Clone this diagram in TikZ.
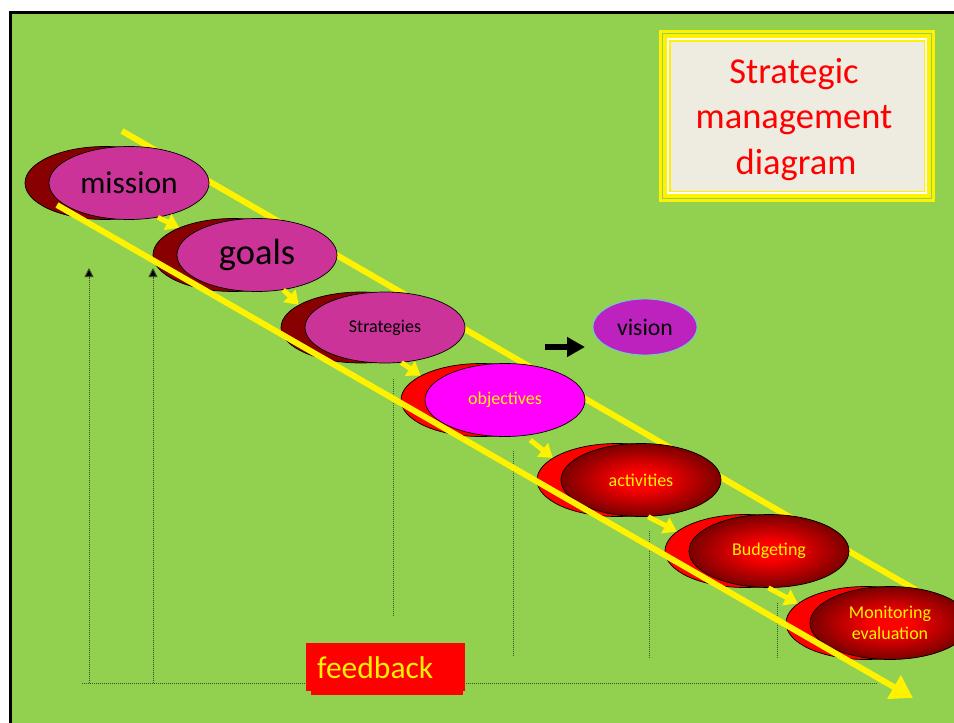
\documentclass[tikz,border=0pt]{standalone}
\usepackage{fontspec}
\setmainfont{Carlito}
\usetikzlibrary{shapes.geometric,arrows.meta}
\definecolor{bggreen}{HTML}{92D050}
\definecolor{pinkm}{HTML}{CC3399}
\definecolor{darkredb}{HTML}{880000}
\definecolor{brightmag}{HTML}{FF00FF}
\definecolor{visionc}{HTML}{BE22BE}
\definecolor{visionb}{HTML}{66CCEE}
\definecolor{beigebox}{HTML}{EEEBE0}
\definecolor{dotc}{HTML}{3C5028}
\definecolor{deepred}{HTML}{7A0000}
\pgfdeclareradialshading{redglow}{\pgfpoint{0bp}{0bp}}{color(0bp)=(red); color(6bp)=(red); color(25bp)=(deepred); color(50bp)=(deepred)}
\begin{document}
\begin{tikzpicture}[x=1pt,y=-1pt,
  ell/.style={ellipse, draw=black, line width=0.7pt, minimum width=160pt, minimum height=73pt, inner sep=0pt},
  backdark/.style={ell, fill=darkredb},
  backred/.style={ell, fill=red},
  frontpink/.style={ell, fill=pinkm, text=black},
  frontmag/.style={ell, fill=brightmag, text=yellow, font=\fontsize{18}{21.6}\selectfont},
  frontgrad/.style={ell, shading=redglow, text=yellow, font=\fontsize{18}{21.6}\selectfont, align=center},
  yline/.style={draw=yellow, line width=6pt},
  smallarrow/.style={draw=yellow, line width=5pt, -{Triangle[length=13pt,width=17pt]}},
  fbline/.style={draw=dotc, line width=0.9pt, dash pattern=on 1pt off 1pt},
  uptip/.style={-{Triangle[length=9pt,width=9pt,fill=black]}},
  titletext/.style={text=red, font=\fontsize{36.5}{45.5}\selectfont, anchor=base, inner sep=0pt}
]
\useasboundingbox (0,0) rectangle (954,723);
% background
\fill[white] (0,0) rectangle (954,723);
\fill[bggreen] (10,12) rectangle (960,730);
\draw[black, line width=2.6pt] (10.3,730) -- (10.3,12.3) -- (960,12.3);

% title box
\fill[yellow] (659,30) rectangle (935,202);
\draw[bggreen, line width=1pt] (662.5,33.5) rectangle (931.5,198.5);
\draw[white, line width=2pt] (668,39) rectangle (926,193);
\fill[beigebox] (670.5,41.5) rectangle (923.5,190.5);
\node[titletext] (t1) at (794,83) {Strategic};
\node[titletext] (t2) at (794,128.5) {management};
\node[titletext] (t3) at (796,174) {diagram};

% feedback dotted lines
\coordinate (h1) at (82,683);
\coordinate (h2) at (878,683);
\draw[fbline] (h1) -- (h2);
\coordinate (va1) at (89,683);
\coordinate (va2) at (89,268);
\coordinate (vb1) at (153,683);
\coordinate (vb2) at (153,268);
\draw[fbline, uptip] (va1) -- (va2);
\draw[fbline, uptip] (vb1) -- (vb2);
\coordinate (vc1) at (393,379);
\coordinate (vc2) at (393,617);
\coordinate (vd1) at (513,451);
\coordinate (vd2) at (513,657);
\coordinate (ve1) at (649,531);
\coordinate (ve2) at (649,658);
\coordinate (vf1) at (777,603);
\coordinate (vf2) at (777,658);
\draw[fbline] (vc1) -- (vc2);
\draw[fbline] (vd1) -- (vd2);
\draw[fbline] (ve1) -- (ve2);
\draw[fbline] (vf1) -- (vf2);

% upper yellow line (behind the ellipses)
\coordinate (u1) at (122,131);
\coordinate (u2) at (935,601);
\draw[yline] (u1) -- (u2);

% ellipses
\node[backdark] (missionB) at (105,183) {};
\node[frontpink, font=\fontsize{31.5}{36}\selectfont] (missionF) at (129,183) {mission};
\node[backdark] (goalsB) at (233,255) {};
\node[frontpink, font=\fontsize{36.5}{42}\selectfont] (goalsF) at (257,255) {goals};
\node[backdark, minimum height=71pt] (stratB) at (361,327.5) {};
\node[frontpink, minimum height=71pt, font=\fontsize{18}{21.6}\selectfont] (stratF) at (385,327.5) {Strategies};
\node[backred] (objB) at (481,400) {};
\node[frontmag] (objF) at (505,400) {objectives};
\node[backred] (actB) at (617,480) {};
\node[frontgrad] (actF) at (641,480) {activities};
\node[backred] (budB) at (745,551) {};
\node[frontgrad] (budF) at (769,551) {Budgeting};
\node[backred] (monB) at (866,623) {};
\node[frontgrad] (monF) at (890,623) {Monitoring\\evaluation};

% vision
\node[ellipse, fill=visionc, draw=visionb, line width=0.8pt, minimum width=104pt, minimum height=56pt, inner sep=0pt, font=\fontsize{23.7}{28}\selectfont, text=black] (vision) at (645,327) {vision};
\coordinate (ba1) at (545,347);
\coordinate (ba2) at (585,347);
\draw[black, line width=6.5pt, -{Triangle[length=18pt,width=19pt]}] (ba1) -- (ba2);

% small yellow arrows
\draw[smallarrow] (missionF.310) -- (goalsB.153);
\draw[smallarrow] (goalsF.307) -- (stratB.160);
\draw[smallarrow] (stratF.295) -- (objB.158);
\draw[smallarrow, shorten <=7pt] (objF.299) -- (actB.161);
\draw[smallarrow] (actF.281) -- (budB.164);
\draw[smallarrow] (budF.269) -- (monB.164);

% lower yellow line (in front)
\coordinate (l1) at (57,205);
\coordinate (l2) at (913,698);
\draw[yline, -{Triangle[length=22pt,width=26pt]}] (l1) -- (l2);

% feedback box
\fill[red] (311,648) rectangle (463,695);
\fill[red] (306,643) rectangle (465,691);
\node[anchor=base west, inner sep=0pt, text=yellow, font=\fontsize{31.5}{36}\selectfont] (fb) at (317,678) {feedback};
\end{tikzpicture}
\end{document}
